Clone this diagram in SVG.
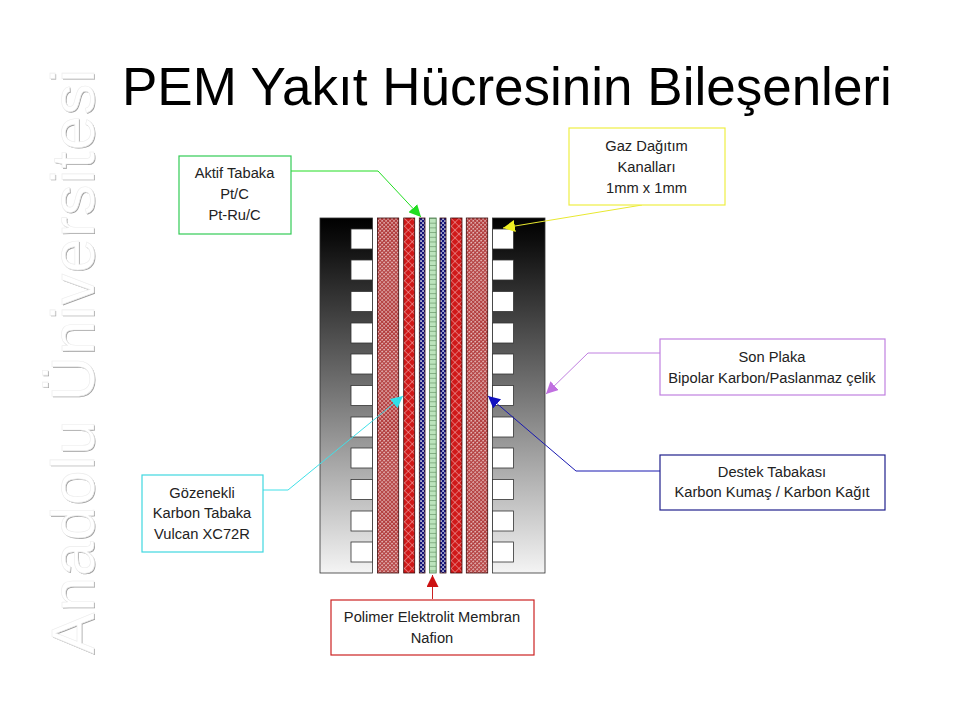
<svg xmlns="http://www.w3.org/2000/svg" width="960" height="720" viewBox="0 0 960 720">
<style>
text{font-family:"Liberation Sans",Arial,sans-serif}
.l{font-size:14.7px;fill:#222;text-anchor:middle}
.box{fill:#fff;stroke-width:1.2}
.con{fill:none;stroke-width:1}
.plate{stroke:#333;stroke-width:.8;fill:url(#plateGrad)}
.ch{fill:#fff;stroke:#333;stroke-width:.8}
.lay{stroke:#3a0a0a;stroke-width:.8}
.wm{font-size:62px}
</style>
<defs>
<linearGradient id="plateGrad" x1="0" y1="0" x2="0" y2="1">
<stop offset="0" stop-color="#000"/><stop offset=".06" stop-color="#0c0c0c"/><stop offset=".5" stop-color="#777"/><stop offset="1" stop-color="#f4f4f4"/>
</linearGradient>
<pattern id="fine" width="2.8" height="2.8" patternUnits="userSpaceOnUse" patternTransform="rotate(45)">
<rect width="2.8" height="2.8" fill="#b23c3c"/><rect width="1.5" height="1.5" fill="#f0d4d4"/>
</pattern>
<pattern id="cross" width="5.5" height="5.5" patternUnits="userSpaceOnUse" patternTransform="rotate(45)">
<rect width="5.5" height="5.5" fill="#d01818"/><path d="M0 0H5.500M0 0V5.500" stroke="#f4c8c8" stroke-width=".9"/>
</pattern>
<pattern id="check" width="4" height="4" patternUnits="userSpaceOnUse">
<rect width="4" height="4" fill="#14147a"/><rect x=".3" y=".3" width="1.500" height="1.500" fill="#fff"/><rect x="2.300" y="2.300" width="1.500" height="1.500" fill="#fff"/>
</pattern>
<pattern id="grid" width="6.7" height="4.7" patternUnits="userSpaceOnUse" x="429.5" y="218">
<rect width="6.7" height="4.7" fill="#bce4bc"/><path d="M0 0H6.700" stroke="#4a7a4a" stroke-width="1"/>
</pattern>
<marker id="aG" viewBox="0 0 10 10" refX="10" refY="5" markerWidth="12" markerHeight="12" markerUnits="userSpaceOnUse" orient="auto"><path d="M0 0L10 5L0 10z" fill="#22dd22"/></marker>
<marker id="aY" viewBox="0 0 10 10" refX="10" refY="5" markerWidth="12" markerHeight="12" markerUnits="userSpaceOnUse" orient="auto"><path d="M0 0L10 5L0 10z" fill="#eeee22"/></marker>
<marker id="aV" viewBox="0 0 10 10" refX="10" refY="5" markerWidth="12" markerHeight="12" markerUnits="userSpaceOnUse" orient="auto"><path d="M0 0L10 5L0 10z" fill="#c070e0"/></marker>
<marker id="aB" viewBox="0 0 10 10" refX="10" refY="5" markerWidth="12" markerHeight="12" markerUnits="userSpaceOnUse" orient="auto"><path d="M0 0L10 5L0 10z" fill="#1010c0"/></marker>
<marker id="aC" viewBox="0 0 10 10" refX="10" refY="5" markerWidth="12" markerHeight="12" markerUnits="userSpaceOnUse" orient="auto"><path d="M0 0L10 5L0 10z" fill="#30e0e8"/></marker>
<marker id="aR" viewBox="0 0 10 10" refX="10" refY="5" markerWidth="12" markerHeight="12" markerUnits="userSpaceOnUse" orient="auto"><path d="M0 0L10 5L0 10z" fill="#cc1111"/></marker>
</defs>
<rect width="960" height="720" fill="#fff"/>
<text class="wm" transform="translate(95 655) rotate(-90)" textLength="585" fill="#a0a0a0">Anadolu Üniversitesi</text>
<text class="wm" transform="translate(93.600 654) rotate(-90)" textLength="585" fill="#fff" stroke="#ececec" stroke-width=".6">Anadolu Üniversitesi</text>
<text id="title" x="122" y="105" font-size="53" fill="#000">PEM Yakıt Hücresinin Bileşenleri</text>

<g id="stack">
<g id="left-plate">
<rect class="plate" x="320" y="218" width="52.5" height="355"/>
<rect class="ch" x="351" y="229" width="21.5" height="20"/><rect class="ch" x="351" y="260" width="21.5" height="20"/><rect class="ch" x="351" y="291.500" width="21.500" height="20"/><rect class="ch" x="351" y="323" width="21.500" height="20"/><rect class="ch" x="351" y="354" width="21.500" height="20"/><rect class="ch" x="351" y="385.500" width="21.500" height="20"/><rect class="ch" x="351" y="417" width="21.500" height="20"/><rect class="ch" x="351" y="448" width="21.500" height="20"/><rect class="ch" x="351" y="479.500" width="21.500" height="20"/><rect class="ch" x="351" y="511" width="21.500" height="20"/><rect class="ch" x="351" y="542" width="21.500" height="20"/>
</g>
<g id="right-plate">
<rect class="plate" x="492.500" y="218" width="52.500" height="355"/>
<rect class="ch" x="492.500" y="229" width="21" height="20"/><rect class="ch" x="492.500" y="260" width="21" height="20"/><rect class="ch" x="492.500" y="291.500" width="21" height="20"/><rect class="ch" x="492.500" y="323" width="21" height="20"/><rect class="ch" x="492.500" y="354" width="21" height="20"/><rect class="ch" x="492.500" y="385.500" width="21" height="20"/><rect class="ch" x="492.500" y="417" width="21" height="20"/><rect class="ch" x="492.500" y="448" width="21" height="20"/><rect class="ch" x="492.500" y="479.500" width="21" height="20"/><rect class="ch" x="492.500" y="511" width="21" height="20"/><rect class="ch" x="492.500" y="542" width="21" height="20"/>
</g>
<g id="layers">
<rect class="lay" x="377.500" y="218" width="21.200" height="355" fill="url(#fine)"/>
<rect class="lay" x="403.700" y="218" width="11" height="355" fill="url(#cross)"/>
<rect class="lay" x="419.300" y="218" width="5.700" height="355" fill="url(#check)"/>
<rect x="429.500" y="218" width="6.700" height="355" fill="url(#grid)" stroke="#4a7a4a" stroke-width=".8"/>
<rect class="lay" x="440" y="218" width="6" height="355" fill="url(#check)"/>
<rect class="lay" x="450.700" y="218" width="11.300" height="355" fill="url(#cross)"/>
<rect class="lay" x="466.300" y="218" width="21.400" height="355" fill="url(#fine)"/>
</g>
</g>

<g id="connectors">
<path class="con" stroke="#22dd22" marker-end="url(#aG)" d="M291 171H378L421 217"/>
<path class="con" stroke="#e8e830" marker-end="url(#aY)" d="M642 205L503 228"/>
<path class="con" stroke="#c080e0" marker-end="url(#aV)" d="M660 353H588L546 394"/>
<path class="con" stroke="#1818b0" marker-end="url(#aB)" d="M660 471H576L488 396"/>
<path class="con" stroke="#40e0e8" marker-end="url(#aC)" d="M262 490H288L403 396"/>
<path class="con" stroke="#cc2222" marker-end="url(#aR)" d="M432.500 599V575"/>
</g>

<g id="node-aktif">
<rect class="box" x="179" y="156" width="112" height="78" stroke="#33cc55"/>
<text class="l" x="234.500" y="178">Aktif Tabaka</text><text class="l" x="234.500" y="199">Pt/C</text><text class="l" x="234.500" y="220">Pt-Ru/C</text>
</g>
<g id="node-gaz">
<rect class="box" x="569" y="128" width="156" height="77" stroke="#eeee44"/>
<text class="l" x="646.500" y="151">Gaz Dağıtım</text><text class="l" x="646.500" y="172">Kanalları</text><text class="l" x="646.500" y="193">1mm x 1mm</text>
</g>
<g id="node-son">
<rect class="box" x="660" y="339" width="225" height="56" stroke="#c080e0"/>
<text class="l" x="772" y="362">Son Plaka</text><text class="l" x="772" y="383">Bipolar Karbon/Paslanmaz çelik</text>
</g>
<g id="node-destek">
<rect class="box" x="660" y="455" width="225" height="55" stroke="#20208c"/>
<text class="l" x="772" y="477">Destek Tabakası</text><text class="l" x="772" y="497">Karbon Kumaş / Karbon Kağıt</text>
</g>
<g id="node-gozenekli">
<rect class="box" x="142" y="475" width="121" height="77" stroke="#40d8e0"/>
<text class="l" x="202" y="498">Gözenekli</text><text class="l" x="202" y="518">Karbon Tabaka</text><text class="l" x="202" y="539">Vulcan XC72R</text>
</g>
<g id="node-polimer">
<rect class="box" x="331" y="600" width="203" height="55" stroke="#cc2222"/>
<text class="l" x="432" y="622">Polimer Elektrolit Membran</text><text class="l" x="432" y="643">Nafion</text>
</g>
</svg>
